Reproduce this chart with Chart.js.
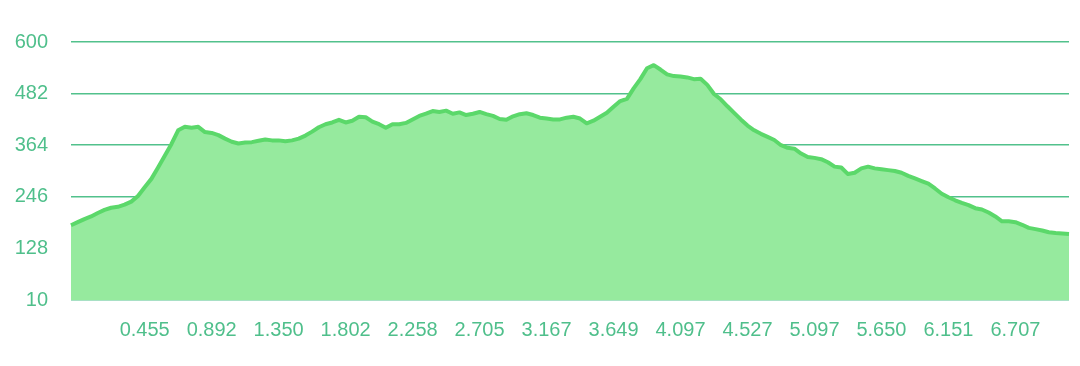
<!DOCTYPE html>
<html>
<head>
<meta charset="utf-8">
<script src="https://cdn.jsdelivr.net/npm/chart.js@4"></script>
<style>
  html, body { margin: 0; padding: 0; background: #fff; }
  #wrap { width: 1080px; height: 366px; }
</style>
</head>
<body>
<div id="wrap"><canvas id="profile"></canvas></div>
<script>
// elevation samples along the route (evenly spaced points)
const elevation = [
  181, 188, 195, 201, 209, 216, 221, 223, 228, 235,
  248, 268, 287, 313, 340, 367, 398, 406, 404, 406,
  394, 392, 387, 379, 372, 368, 370, 371, 374, 377,
  375, 375, 373, 375, 379, 386, 395, 405, 412, 416,
  422, 416, 420, 429, 428, 418, 412, 404, 412, 412,
  415, 423, 431, 436, 442, 440, 443, 436, 439, 433,
  436, 440, 435, 431, 424, 422, 430, 435, 437, 433,
  427, 425, 423, 423, 427, 429, 425, 414, 420, 429,
  438, 452, 465, 470, 494, 515, 540, 547, 537, 526,
  522, 521, 519, 515, 516, 502, 481, 469, 453, 438,
  423, 409, 398, 390, 383, 376, 364, 358, 356, 345,
  337, 335, 332, 325, 315, 313, 298, 301, 311, 315,
  311, 309, 307, 305, 301, 294, 288, 282, 276, 265,
  253, 245, 238, 232, 227, 220, 217, 210, 201, 190,
  190, 188, 182, 175, 172, 169, 165, 163, 162, 161
];

// distance labels (km) shown under the axis
const tickLabels = ['0.455', '0.892', '1.350', '1.802', '2.258', '2.705', '3.167',
  '3.649', '4.097', '4.527', '5.097', '5.650', '6.151', '6.707'];
const firstTick = 11;
const tickEvery = 10;

// y axis range
const yMin = 10, yMax = 600, yStep = 118;

const labels = elevation.map((v, i) => i);

const textColor = '#4fbf8b';
const gridColor = '#52c18c';
const font = { family: 'Liberation Sans, Arial, sans-serif', size: 20 };

new Chart(document.getElementById('profile'), {
    type: 'line',
    data: {
        labels: labels,
        datasets: [{
            data: elevation,
            borderColor: '#5bd86a',
            backgroundColor: '#96ea9e',
            borderWidth: 4,
            fill: 'start',
            tension: 0,
            pointRadius: 0,
            borderJoinStyle: 'round'
        }]
    },
    options: {
        responsive: true,
        maintainAspectRatio: false,
        animation: false,
        layout: {
            padding: { left: 14, right: 11, top: 42, bottom: 23 }
        },
        plugins: {
            legend: { display: false },
            tooltip: { enabled: false }
        },
        scales: {
            x: {
                type: 'category',
                offset: false,
                grid: { display: false },
                border: { display: false },
                afterFit: (s) => { s.height = 43; s.paddingLeft = 0; s.paddingRight = 0; },
                ticks: {
                    autoSkip: false,
                    maxRotation: 0,
                    padding: 10,
                    color: textColor,
                    font: font,
                    callback: (v, i) => {
                        const k = i - firstTick;
                        if (k < 0 || k % tickEvery !== 0) return '';
                        return tickLabels[k / tickEvery] || '';
                    }
                }
            },
            y: {
                min: yMin,
                max: yMax,
                grid: { color: gridColor, lineWidth: 1.6, drawTicks: false },
                border: { display: false },
                afterFit: (s) => { s.width = 57; },
                ticks: {
                    stepSize: yStep,
                    padding: 23,
                    color: textColor,
                    font: font
                }
            }
        }
    }
});
</script>
</body>
</html>
